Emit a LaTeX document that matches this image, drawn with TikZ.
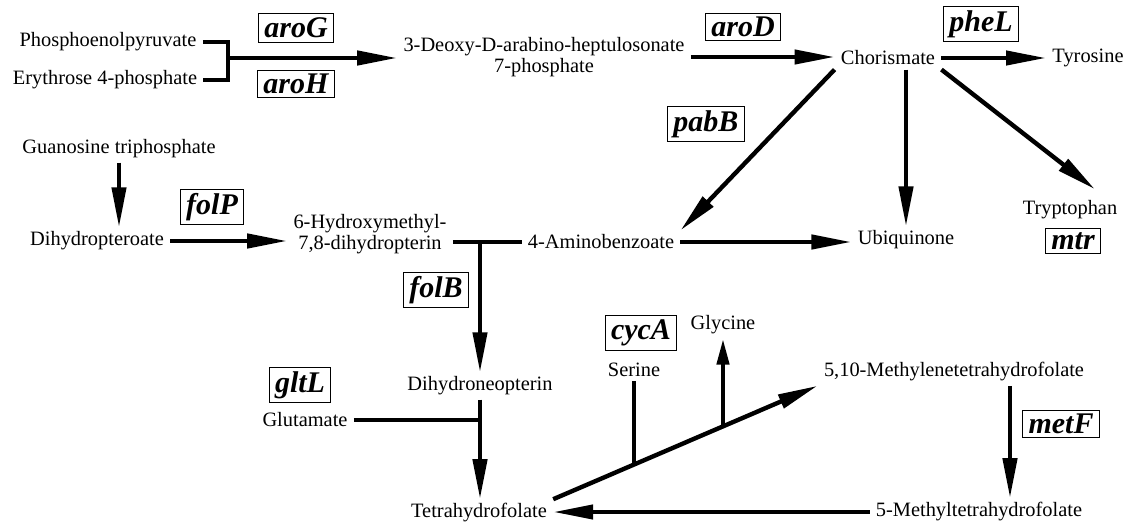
\documentclass[tikz,border=0pt]{standalone}
\usepackage{fontspec}
\setmainfont{Liberation Serif}
\usetikzlibrary{arrows.meta,calc}

\begin{document}
\begin{tikzpicture}[x=0.5pt,y=-0.5pt,
  met/.style={inner xsep=3pt,inner ysep=2pt,align=center,font=\fontsize{10.2}{10.5}\selectfont},
  gene/.style={draw,line width=0.5pt,inner xsep=3pt,inner ysep=2pt,font=\fontsize{15}{16}\selectfont\bfseries\itshape},
  rxn/.style={line width=2.2pt,-{Triangle[length=20pt,width=7pt]}},
  bar/.style={line width=2.2pt}]
\useasboundingbox (0,0) rectangle (1132,530);
\node[met] (pep) at (108,42) {Phosphoenolpyruvate};
\node[met] (e4p) at (105,80) {Erythrose 4-phosphate};
\node[met] (dahp) at (544,57) {3-Deoxy-D-arabino-heptulosonate\\7-phosphate};
\node[met] (chor) at (888,58) {Chorismate};
\node[met] (tyr) at (1088,58) {Tyrosine};
\node[met] (gtp) at (119,149) {Guanosine triphosphate};
\node[met] (dhpt) at (97,241) {Dihydropteroate};
\node[met] (hmdp) at (370,234) {6-Hydroxymethyl-\\7,8-dihydropterin};
\node[met] (pabA) at (601,242) {4-Aminobenzoate};
\node[met] (ubi) at (906,240) {Ubiquinone};
\node[met] (trp) at (1070,210) {Tryptophan};
\node[met] (dhnp) at (480,386) {Dihydroneopterin};
\node[met] (glu) at (305,420) {Glutamate};
\node[met] (thf) at (479,513) {Tetrahydrofolate};
\node[met] (ser) at (634,370) {Serine};
\node[met] (gly) at (723,325) {Glycine};
\node[met] (mthf) at (954,372) {5,10-Methylenetetrahydrofolate};
\node[met] (methf) at (979,512) {5-Methyltetrahydrofolate};
\node[gene] (aroG) at (296,28) {aroG};
\node[gene] (aroH) at (296,84) {aroH};
\node[gene] (aroD) at (743,27) {aroD};
\node[gene] (pheL) at (981,24) {pheL};
\node[gene] (pabB) at (706,124) {pabB};
\node[gene] (mtr) at (1073,241) {mtr};
\node[gene] (folP) at (212,207) {folP};
\node[gene] (folB) at (436,290) {folB};
\node[gene] (gltL) at (300,385) {gltL};
\node[gene] (cycA) at (641,333) {cycA};
\node[gene] (metF) at (1061,424) {metF};
\coordinate (j1) at (228,58);
\draw[bar] (pep.east) -| (j1) |- (e4p.east);
\draw[rxn] (j1) -- (j1 -| dahp.west);
\draw[rxn] (dahp.east) -- (dahp.east -| chor.west);
\draw[rxn] (chor.east) -- (chor.east -| tyr.west);
\draw[rxn] (chor.south west) -- (pabA.north east);
\draw[rxn] (chor.south -| ubi.north) -- (ubi.north);
\draw[rxn] (chor.south east) -- ($(trp.north)+(25,-7)$);
\draw[rxn] (gtp.south) -- (gtp.south |- dhpt.north);
\draw[rxn] (dhpt.east) -- (dhpt.east -| hmdp.west);
\draw[bar] (hmdp.east |- pabA.west) -- (pabA.west);
\draw[rxn] (dhnp.north |- pabA.west) -- (dhnp.north);
\draw[rxn] (pabA.east) -- (pabA.east -| ubi.west);
\draw[rxn] (dhnp.south) -- (dhnp.south |- thf.north);
\draw[bar] (glu.east) -- (glu.east -| dhnp.south);
\draw[rxn] (methf.west) -- (methf.west -| thf.east);
\draw[rxn] ([xshift=28pt]mthf.south) -- ([xshift=28pt]mthf.south |- methf.north);
\draw[rxn] (thf.north east) -- (mthf.south west) coordinate[pos=0.3] (s1) coordinate[pos=0.64] (g1);
\draw[bar] (ser.south) -- (ser.south |- s1);
\draw[line width=2.2pt,-{Triangle[length=13pt,width=6pt]}] (gly.south |- g1) -- (gly.south);
\end{tikzpicture}
\end{document}
